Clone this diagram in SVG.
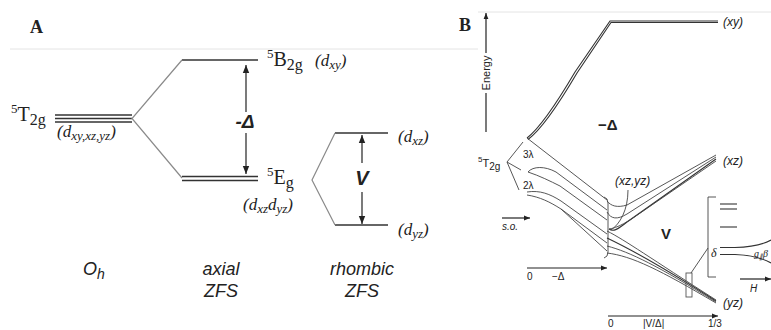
<svg xmlns="http://www.w3.org/2000/svg" width="771" height="330" viewBox="0 0 771 330">
<style>
.serif{font-family:"Liberation Serif","Times New Roman",serif;fill:#222}
.sans{font-family:"Liberation Sans",Arial,sans-serif;fill:#222}
.it{font-style:italic}
.bd{font-weight:bold}
.lvl{stroke:#333;stroke-width:1.6;fill:none}
.gr{stroke:#8a8a8a;stroke-width:1.2;fill:none}
.arr{stroke:#222;stroke-width:1.2;fill:none}
.ln{stroke:#333;stroke-width:1.1;fill:none}
.thin{stroke:#444;stroke-width:0.9;fill:none}
.sep{stroke:#e4e4e4;stroke-width:1;fill:none}
</style>
<defs>
<marker id="ah" viewBox="0 0 10 10" refX="10" refY="5" markerWidth="8" markerHeight="8" markerUnits="userSpaceOnUse" orient="auto"><path d="M0,1 L10,5 L0,9 z" fill="#222"/></marker>
<marker id="ahs" viewBox="0 0 10 10" refX="10" refY="5" markerWidth="7" markerHeight="6" markerUnits="userSpaceOnUse" orient="auto"><path d="M0,1 L10,5 L0,9 z" fill="#222"/></marker>
</defs>

<!-- separators -->
<line class="sep" x1="10" y1="49" x2="478" y2="49"/>
<line class="sep" x1="478" y1="12" x2="771" y2="12"/>

<!-- Panel A -->
<text class="serif bd" x="30" y="33" font-size="18">A</text>

<g id="A-T2g">
<line class="lvl" x1="55" y1="115" x2="132" y2="115" stroke-width="1.2"/>
<line class="lvl" x1="55" y1="118.5" x2="132" y2="118.5" stroke-width="1.2"/>
<line class="lvl" x1="55" y1="122" x2="132" y2="122" stroke-width="1.2"/>
<text class="serif" x="11" y="121" font-size="20"><tspan font-size="13" dy="-8">5</tspan><tspan dy="8">T</tspan><tspan font-size="16" dy="4">2g</tspan></text>
<text class="serif it" x="57" y="137" font-size="17">(d<tspan font-size="13" dy="3">xy,xz,yz</tspan><tspan dy="-3">)</tspan></text>
</g>

<g id="A-B2g">
<line class="lvl" x1="182" y1="60" x2="258" y2="60"/>
<text class="serif" x="267" y="66" font-size="20"><tspan font-size="13" dy="-8">5</tspan><tspan dy="8">B</tspan><tspan font-size="16" dy="4">2g</tspan></text>
<text class="serif it" x="315" y="66" font-size="17">(d<tspan font-size="13" dy="3">xy</tspan><tspan dy="-3">)</tspan></text>
</g>

<g id="A-Eg">
<line class="lvl" x1="182" y1="176.5" x2="258" y2="176.5" stroke-width="1.3"/>
<line class="lvl" x1="182" y1="180.5" x2="258" y2="180.5" stroke-width="1.3"/>
<text class="serif" x="267" y="184" font-size="20"><tspan font-size="13" dy="-8">5</tspan><tspan dy="8">E</tspan><tspan font-size="16" dy="4">g</tspan></text>
<text class="serif it" x="243" y="210" font-size="17">(d<tspan font-size="13" dy="3">xz</tspan><tspan dy="-3">d</tspan><tspan font-size="13" dy="3">yz</tspan><tspan dy="-3">)</tspan></text>
</g>

<g id="A-dxz">
<line class="lvl" x1="335" y1="133" x2="388" y2="133" stroke="#666"/>
<text class="serif it" x="398" y="142" font-size="17">(d<tspan font-size="13" dy="3">xz</tspan><tspan dy="-3">)</tspan></text>
</g>

<g id="A-dyz">
<line class="lvl" x1="335" y1="225" x2="388" y2="225" stroke="#666"/>
<text class="serif it" x="398" y="235" font-size="17">(d<tspan font-size="13" dy="3">yz</tspan><tspan dy="-3">)</tspan></text>
</g>

<g id="A-labels">
<text class="sans it" x="83" y="275" font-size="18">O<tspan font-size="14" dy="4">h</tspan></text>
<text class="sans it" x="221" y="275" font-size="18" text-anchor="middle">axial</text>
<text class="sans it" x="221" y="297" font-size="18" text-anchor="middle">ZFS</text>
<text class="sans it" x="362" y="275" font-size="18" text-anchor="middle">rhombic</text>
<text class="sans it" x="362" y="297" font-size="18" text-anchor="middle">ZFS</text>
<text class="sans it bd" x="245" y="128" font-size="19" text-anchor="middle">-Δ</text>
<text class="sans it bd" x="362" y="185" font-size="20" text-anchor="middle">V</text>
</g>

<g id="A-connectors">
<polyline class="gr" points="182,60 132,118.5 182,178"/>
<polyline class="gr" points="335,133 312,180 335,225"/>
<line class="arr" x1="246" y1="112" x2="246" y2="65" marker-end="url(#ah)"/>
<line class="arr" x1="246" y1="133" x2="246" y2="174" marker-end="url(#ah)"/>
<line class="arr" x1="362" y1="163" x2="362" y2="135" marker-end="url(#ah)"/>
<line class="arr" x1="362" y1="192" x2="362" y2="224" marker-end="url(#ah)"/>
</g>

<!-- Panel B -->
<text class="serif bd" x="459" y="31" font-size="18">B</text>

<g id="B-energy">
<line class="arr" x1="486" y1="53" x2="486" y2="13" marker-end="url(#ahs)"/>
<line class="arr" x1="486" y1="132" x2="486" y2="93"/>
<text class="sans" x="0" y="0" font-size="11" text-anchor="middle" transform="translate(490,73) rotate(-90)">Energy</text>
</g>

<g id="B-T2g">
<text class="sans" x="478" y="167" font-size="11"><tspan font-size="8" dy="-5">5</tspan><tspan dy="5">T</tspan><tspan font-size="10" dy="3">2g</tspan></text>
<text class="sans" x="523" y="158" font-size="10">3λ</text>
<text class="sans" x="523" y="189" font-size="10">2λ</text>
</g>

<g id="B-xy">
<path class="ln" d="M527,138 C540,128 555,106 575,72 L610,21 L718,21" stroke-width="2"/>
<path class="ln" d="M528,139.5 C542,129 557,107 577,73 L611,22.5 L718,22.5" stroke="#888" stroke-width="1"/>
<text class="sans it" x="723" y="26" font-size="12">(xy)</text>
</g>

<g id="B-xz">
<text class="sans it" x="723" y="165" font-size="12">(xz)</text>
<text class="sans it" x="615" y="185" font-size="12">(xz,yz)</text>
</g>

<g id="B-yz">
<text class="sans it" x="723" y="307" font-size="12">(yz)</text>
</g>

<g id="B-labels">
<text class="sans bd" x="598" y="130" font-size="15">−Δ</text>
<text class="sans bd" x="661" y="239" font-size="15">V</text>
<text class="sans it" x="502" y="230" font-size="10">s.o.</text>
<text class="sans" x="527" y="280" font-size="10">0</text>
<text class="sans" x="552" y="280" font-size="10">−Δ</text>
<text class="sans" x="608" y="327" font-size="10">0</text>
<text class="sans" x="643" y="327" font-size="10">|V/Δ|</text>
<text class="sans" x="708" y="327" font-size="10">1/3</text>
</g>

<g id="B-inset">
<polyline class="thin" points="716,197 708,197 708,277 716,277" stroke="#555"/>
<line class="ln" x1="720" y1="204" x2="737" y2="204" stroke-width="1.8"/>
<line class="ln" x1="720" y1="209" x2="737" y2="209" stroke-width="1.8"/>
<line class="ln" x1="720" y1="227" x2="737" y2="227" stroke-width="1.6"/>
<path class="ln" d="M720,247.5 L735,247.5 C750,247 762,245 771,240" stroke-width="1.6"/>
<path class="ln" d="M720,254.5 L735,254.5 C750,255 762,258 771,263" stroke-width="1.6"/>
<text class="serif it" x="711" y="257" font-size="12">δ</text>
<text class="serif it" x="754" y="257" font-size="10">g<tspan font-size="7" dy="2">∥</tspan><tspan dy="-2">β</tspan></text>
<text class="sans it" x="750" y="292" font-size="10">H</text>
</g>

<g id="B-connectors">
<line class="thin" x1="507" y1="162" x2="523" y2="142"/>
<line class="thin" x1="507" y1="162" x2="521" y2="170"/>
<line class="thin" x1="507" y1="162" x2="519" y2="190"/>
<line class="thin" x1="527" y1="138" x2="607" y2="200"/>
<path class="thin" d="M528,172 C533,166 545,166 556,172 L607,210"/>
<path class="thin" d="M528,172 C540,176 550,181 560,186 L607,220"/>
<path class="thin" d="M527,192 C540,190 550,194 561,201 L607,234"/>
<path class="thin" d="M527,195 C540,197 550,202 561,209 L607,243"/>
<path class="thin" d="M561,209 L607,251"/>
<path class="thin" d="M604,197 Q608,198 608,203 L608,252 Q608,257 604,258"/>
<path class="thin" d="M607,201 C611,206 617,208 627,205 L716,155"/>
<path class="thin" d="M607,212 C611,219 617,220 627,214 L716,157"/>
<path class="ln" d="M609,229 C613,232 617,230 627,222 L716,159" stroke-width="1.4"/>
<path class="thin" d="M609,229 C615,228 620,226 630,220 L716,161"/>
<path class="thin" d="M628,190 C628,210 620,224 611,230"/>
<path class="thin" d="M607,231 C625,240 650,258 716,300"/>
<path class="ln" d="M607,238 C628,248 655,262 716,301" stroke-width="1.2"/>
<path class="thin" d="M607,246 C630,252 658,266 716,302"/>
<path class="thin" d="M607,253 C632,256 660,270 716,303"/>
<rect x="686" y="273" width="6" height="24" fill="none" stroke="#555" stroke-width="0.9"/>
<line class="thin" x1="691" y1="273" x2="708" y2="248"/>
<line class="arr" x1="502" y1="218" x2="530" y2="218" marker-end="url(#ahs)"/>
<line class="arr" x1="527" y1="268" x2="607" y2="268" marker-end="url(#ahs)"/>
<line class="arr" x1="608" y1="316" x2="718" y2="316" marker-end="url(#ahs)"/>
<line class="arr" x1="740" y1="279" x2="771" y2="279" marker-end="url(#ahs)"/>
</g>
</svg>
